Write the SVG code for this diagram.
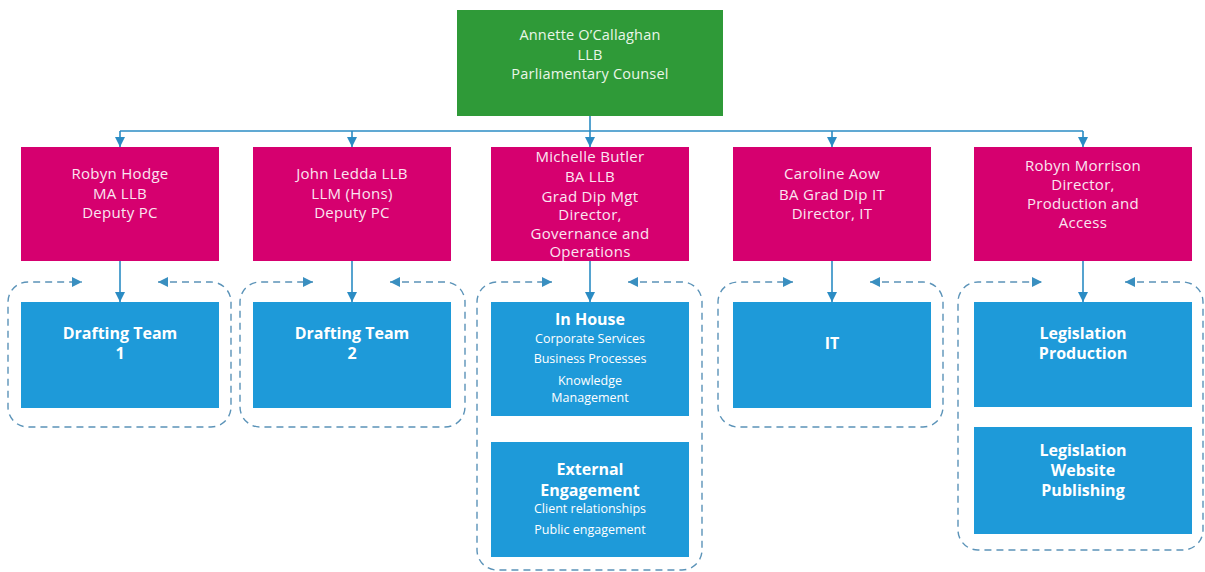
<svg xmlns="http://www.w3.org/2000/svg" width="1205" height="572" viewBox="0 0 1205 572">
<defs>
<marker id="ah" viewBox="0 0 10 10" refX="10" refY="5" markerWidth="10" markerHeight="10" markerUnits="userSpaceOnUse" orient="auto-start-reverse">
<path d="M0,0 L10,5 L0,10 Z" fill="#2b8cc4"/>
</marker>
<marker id="ahd" viewBox="0 0 10 10" refX="10" refY="5" markerWidth="10" markerHeight="10" markerUnits="userSpaceOnUse" orient="auto-start-reverse">
<path d="M0,0 L10,5 L0,10 Z" fill="#3a8fc0"/>
</marker>
<style>
.g{fill:#2f9a38}
.m{fill:#d6006f}
.b{fill:#1e9ad9}
.t{font-family:"Open Sans","Noto Sans",sans-serif;font-size:15px;letter-spacing:0.3px;fill:#fbe6f1;text-anchor:middle}
.tg{font-family:"Open Sans","Noto Sans",sans-serif;font-size:14.5px;letter-spacing:0.2px;fill:#eaf6e8;text-anchor:middle}
.tb{font-family:"Open Sans","Noto Sans",sans-serif;font-size:16px;font-weight:bold;fill:#ffffff;text-anchor:middle}
.ts{font-family:"Open Sans","Noto Sans",sans-serif;font-size:12.5px;fill:#ffffff;text-anchor:middle}
.c{fill:none;stroke:#2b8cc4;stroke-width:1.6}
.d{fill:none;stroke:#5b93b8;stroke-width:1.4;stroke-dasharray:7 5}
</style>
</defs>
<rect width="1205" height="572" fill="#ffffff"/>

<g id="connectors">
<path class="c" d="M590,116 V131"/>
<path class="c" d="M120,131 H1083"/>
<path class="c" d="M120,131 V147" marker-end="url(#ah)"/>
<path class="c" d="M352,131 V147" marker-end="url(#ah)"/>
<path class="c" d="M590,131 V147" marker-end="url(#ah)"/>
<path class="c" d="M832,131 V147" marker-end="url(#ah)"/>
<path class="c" d="M1083,131 V147" marker-end="url(#ah)"/>
<path class="c" d="M120,261 V302" marker-end="url(#ah)"/>
<path class="c" d="M352,261 V302" marker-end="url(#ah)"/>
<path class="c" d="M590,261 V302" marker-end="url(#ah)"/>
<path class="c" d="M832,261 V302" marker-end="url(#ah)"/>
<path class="c" d="M1083,261 V302" marker-end="url(#ah)"/>
<path class="d" d="M158,282 H211 A20,20 0 0 1 231,302 V407 A20,20 0 0 1 211,427 H28 A20,20 0 0 1 8,407 V302 A20,20 0 0 1 28,282 H82" marker-start="url(#ahd)" marker-end="url(#ahd)"/>
<path class="d" d="M390,282 H445 A20,20 0 0 1 465,302 V407 A20,20 0 0 1 445,427 H260 A20,20 0 0 1 240,407 V302 A20,20 0 0 1 260,282 H313" marker-start="url(#ahd)" marker-end="url(#ahd)"/>
<path class="d" d="M628,282 H682 A20,20 0 0 1 702,302 V550 A20,20 0 0 1 682,570 H497 A20,20 0 0 1 477,550 V302 A20,20 0 0 1 497,282 H552" marker-start="url(#ahd)" marker-end="url(#ahd)"/>
<path class="d" d="M870,282 H923 A20,20 0 0 1 943,302 V407 A20,20 0 0 1 923,427 H738 A20,20 0 0 1 718,407 V302 A20,20 0 0 1 738,282 H793" marker-start="url(#ahd)" marker-end="url(#ahd)"/>
<path class="d" d="M1125,282 H1183 A20,20 0 0 1 1203,302 V530 A20,20 0 0 1 1183,550 H978 A20,20 0 0 1 958,530 V302 A20,20 0 0 1 978,282 H1042" marker-start="url(#ahd)" marker-end="url(#ahd)"/>
</g>

<g id="parliamentary-counsel">
<rect class="g" x="457" y="10" width="266" height="106"/>
<text class="tg" x="590" y="40">Annette O’Callaghan</text>
<text class="tg" x="590" y="60">LLB</text>
<text class="tg" x="590" y="79">Parliamentary Counsel</text>
</g>

<g id="robyn-hodge">
<rect class="m" x="21" y="147" width="198" height="114"/>
<text class="t" x="120" y="179">Robyn Hodge</text>
<text class="t" x="120" y="199">MA LLB</text>
<text class="t" x="120" y="218">Deputy PC</text>
</g>

<g id="john-ledda">
<rect class="m" x="253" y="147" width="198" height="114"/>
<text class="t" x="352" y="179">John Ledda LLB</text>
<text class="t" x="352" y="199">LLM (Hons)</text>
<text class="t" x="352" y="218">Deputy PC</text>
</g>

<g id="michelle-butler">
<rect class="m" x="491" y="147" width="198" height="114"/>
<text class="t" x="590" y="162">Michelle Butler</text>
<text class="t" x="590" y="182">BA LLB</text>
<text class="t" x="590" y="202">Grad Dip Mgt</text>
<text class="t" x="590" y="220">Director,</text>
<text class="t" x="590" y="239">Governance and</text>
<text class="t" x="590" y="257">Operations</text>
</g>

<g id="caroline-aow">
<rect class="m" x="733" y="147" width="198" height="114"/>
<text class="t" x="832" y="179">Caroline Aow</text>
<text class="t" x="832" y="200">BA Grad Dip IT</text>
<text class="t" x="832" y="219">Director, IT</text>
</g>

<g id="robyn-morrison">
<rect class="m" x="974" y="147" width="218" height="114"/>
<text class="t" x="1083" y="171">Robyn Morrison</text>
<text class="t" x="1083" y="190">Director,</text>
<text class="t" x="1083" y="209">Production and</text>
<text class="t" x="1083" y="228">Access</text>
</g>

<g id="drafting-team-1">
<rect class="b" x="21" y="302" width="198" height="106"/>
<text class="tb" x="120" y="339">Drafting Team</text>
<text class="tb" x="120" y="359">1</text>
</g>

<g id="drafting-team-2">
<rect class="b" x="253" y="302" width="198" height="106"/>
<text class="tb" x="352" y="339">Drafting Team</text>
<text class="tb" x="352" y="359">2</text>
</g>

<g id="in-house">
<rect class="b" x="491" y="302" width="198" height="114"/>
<text class="tb" x="590" y="325">In House</text>
<text class="ts" x="590" y="343">Corporate Services</text>
<text class="ts" x="590" y="363">Business Processes</text>
<text class="ts" x="590" y="385">Knowledge</text>
<text class="ts" x="590" y="402">Management</text>
</g>

<g id="external-engagement">
<rect class="b" x="491" y="442" width="198" height="115"/>
<text class="tb" x="590" y="475">External</text>
<text class="tb" x="590" y="496">Engagement</text>
<text class="ts" x="590" y="513">Client relationships</text>
<text class="ts" x="590" y="534">Public engagement</text>
</g>

<g id="it">
<rect class="b" x="733" y="302" width="198" height="106"/>
<text class="tb" x="832" y="349">IT</text>
</g>

<g id="legislation-production">
<rect class="b" x="974" y="302" width="218" height="105"/>
<text class="tb" x="1083" y="339">Legislation</text>
<text class="tb" x="1083" y="359">Production</text>
</g>

<g id="legislation-website-publishing">
<rect class="b" x="974" y="427" width="218" height="107"/>
<text class="tb" x="1083" y="456">Legislation</text>
<text class="tb" x="1083" y="476">Website</text>
<text class="tb" x="1083" y="496">Publishing</text>
</g>
</svg>
